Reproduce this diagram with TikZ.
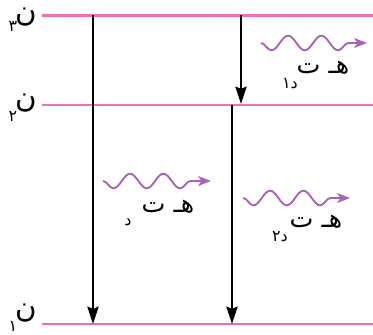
\documentclass[tikz,border=0pt]{standalone}
\usepackage{fontspec}
\usepackage{tikz}
\usetikzlibrary{arrows.meta,decorations.pathmorphing}
\newfontfamily\arabicfont[Script=Arabic]{DejaVu Sans}
\TeXXeTstate=1
\definecolor{levelpink}{RGB}{238,112,178}
\definecolor{wavepurple}{RGB}{168,98,186}

\begin{document}
\begin{tikzpicture}[
x=0.75pt, y=-0.75pt,
level/.style={levelpink, line width=1.6pt},
drop/.style={-{Stealth[length=4.6mm, width=3mm, inset=0.6mm]}, line width=1.1pt, black},
wave/.style={wavepurple, line width=1.4pt, -{Stealth[length=3.4mm, width=2.6mm, inset=0.9mm]}, decorate, decoration={snake, mirror, amplitude=5.5pt, segment length=25pt, post length=3mm}},
lvl/.style={font=\arabicfont\fontsize{22}{24}\selectfont, inner sep=0pt},
sub/.style={font=\arabicfont\fontsize{12}{13}\selectfont, inner sep=0pt},
energy/.style={font=\arabicfont\fontsize{19}{20}\selectfont, inner sep=0pt}
]
\useasboundingbox (0,0) rectangle (373,334);

% energy levels
\coordinate (n3L) at (42,15.5);
\coordinate (n3R) at (373,15.5);
\coordinate (n2L) at (42,105);
\coordinate (n2R) at (373,105);
\coordinate (n1L) at (42,324);
\coordinate (n1R) at (373,324);
\draw[level] (n3L) -- (n3R);
\draw[level] (n2L) -- (n2R);
\draw[level] (n1L) -- (n1R);

\node[lvl] (n3) at (26,17) {\beginR ن\endR};
\node[sub] (n3sub) at (13,26) {\beginR ٣\endR};
\node[lvl] (n2) at (26,103) {\beginR ن\endR};
\node[sub] (n2sub) at (13,116) {\beginR ٢\endR};
\node[lvl] (n1) at (26,313) {\beginR ن\endR};
\node[sub] (n1sub) at (13,326) {\beginR ١\endR};

% transitions
\coordinate (a3) at (93,15.5);
\coordinate (a1) at (93,324);
\coordinate (b3) at (241,15.5);
\coordinate (b2) at (241,104);
\coordinate (c2) at (232,105);
\coordinate (c1) at (232,324);
\draw[drop] (a3) -- (a1);
\draw[drop] (b3) -- (b2);
\draw[drop] (c2) -- (c1);

% emitted photons
\coordinate (w1s) at (261,43);
\coordinate (w1e) at (367,43);
\coordinate (w2s) at (103,181);
\coordinate (w2e) at (211,181);
\coordinate (w3s) at (243,198);
\coordinate (w3e) at (350,198);
\draw[wave] (w1s) -- (w1e);
\draw[wave] (w2s) -- (w2e);
\draw[wave] (w3s) -- (w3e);

\node[energy] (hv1) at (323,68) {\beginR هـ ت\endR};
\node[sub] (hv1sub) at (290,84) {\beginR د١\endR};
\node[energy] (hv) at (168,207) {\beginR هـ ت\endR};
\node[sub] (hvsub) at (128,222) {\beginR د\endR};
\node[energy] (hv2) at (316,222) {\beginR هـ ت\endR};
\node[sub] (hv2sub) at (280,237) {\beginR د٢\endR};
\end{tikzpicture}
\end{document}
